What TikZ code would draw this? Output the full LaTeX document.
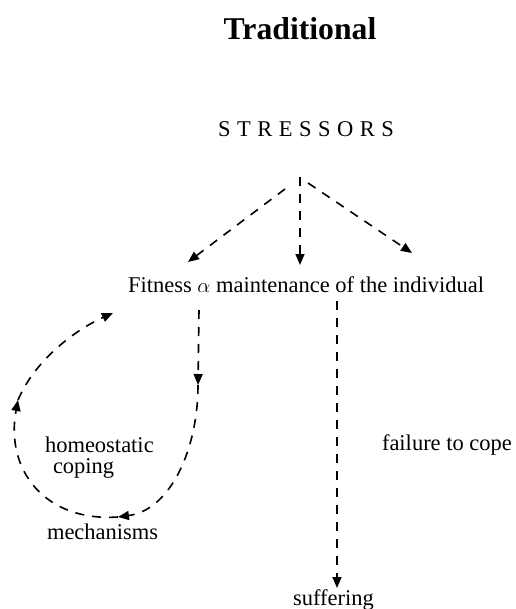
\documentclass[tikz,border=0pt]{standalone}
\usepackage{fontspec}
\setmainfont{Liberation Serif}
\usetikzlibrary{arrows.meta}
\tikzset{
  lbl/.style={inner sep=0pt, outer sep=0pt, anchor=base west, font=\fontsize{22.5}{27}\selectfont},
  dashline/.style={line width=1.6pt, dash pattern=on 9pt off 8pt, -{Triangle[length=11pt,width=9pt]}},
}
\begin{document}
\begin{tikzpicture}[x=1pt,y=-1pt]
\useasboundingbox (0,0) rectangle (515,609);
\node[inner sep=0pt, anchor=base, font=\fontsize{31.7}{36}\selectfont\bfseries] (title) at (300,40) {Traditional};
\node[lbl] (stress) at (218,137) {\addfontfeature{LetterSpace=29}STRESSORS};
\node[lbl] (fit) at (128,292) {Fitness $\alpha$ maintenance of the individual};
\node[lbl] (homeo) at (45,452) {homeostatic};
\node[lbl] (coping) at (53,473) {coping};
\node[lbl] (mech) at (47,539) {mechanisms};
\node[lbl] (fail) at (382,450) {failure to cope};
\node[lbl] (suff) at (293,605) {suffering};
% branch coordinates
\coordinate (sl0) at (285,189);
\coordinate (sl1) at (188,262);
\coordinate (sm0) at (300,177);
\coordinate (sm1) at (300,265);
\coordinate (sr0) at (308,183);
\coordinate (sr1) at (412,253);
\draw[dashline] (sl0) -- (sl1);
\draw[dashline] (sm0) -- (sm1);
\draw[dashline] (sr0) -- (sr1);
% loop
\coordinate (l0) at (199,310);
\coordinate (l1) at (198,385);
\coordinate (l2) at (118,517);
\coordinate (l3) at (18,400);
\coordinate (l4) at (113,313);
\draw[dashline] (l0) -- (l1);
\draw[dashline] (l1) .. controls (198,450) and (170,510) .. (l2);
\draw[dashline] (l2) .. controls (45,522) and (5,470) .. (l3);
\draw[dashline] (l3) .. controls (35,360) and (75,330) .. (l4);
% failure
\coordinate (f0) at (337,301);
\coordinate (f1) at (337,588);
\draw[dashline] (f0) -- (f1);
\end{tikzpicture}
\end{document}
